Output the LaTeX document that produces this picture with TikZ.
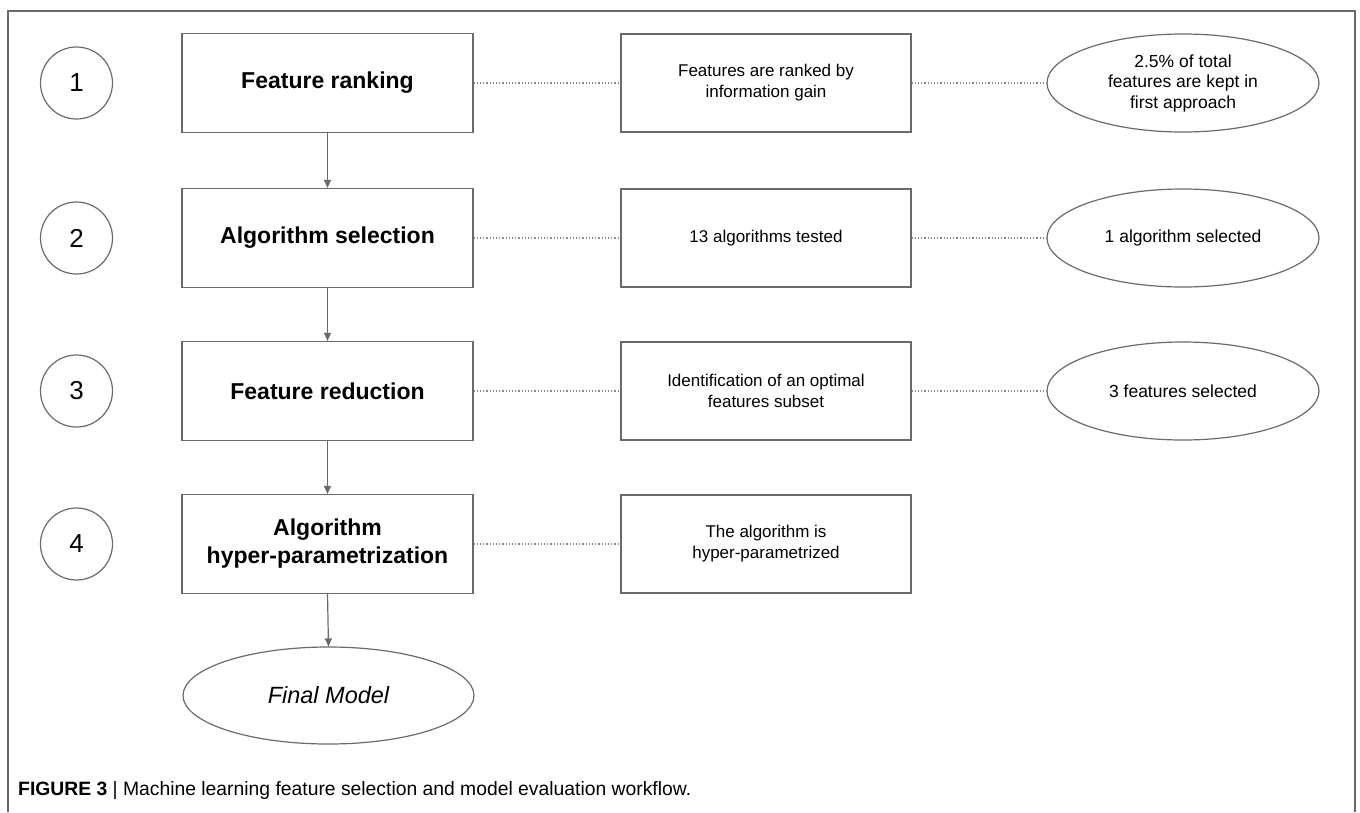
\documentclass[tikz,border=0pt]{standalone}
\usepackage{fontspec}
\setmainfont{Liberation Sans}
\usetikzlibrary{shapes.geometric,arrows.meta}
\definecolor{linegray}{HTML}{6A6A6A}
\definecolor{dotgray}{HTML}{8A8A8A}
\begin{document}
\begin{tikzpicture}[x=1pt,y=-1pt,
  frame/.style={draw=linegray, line width=1.5pt},
  numcirc/.style={circle, draw=linegray, line width=1.2pt, minimum size=72pt, inner sep=0pt, font=\fontsize{26}{30}\selectfont},
  mainbox/.style={rectangle, draw=linegray, line width=1.2pt, minimum width=291pt, minimum height=99pt, inner sep=0pt, align=center, font=\bfseries\fontsize{23}{28}\selectfont},
  descbox/.style={rectangle, draw=linegray, line width=1.2pt, minimum width=290pt, minimum height=98pt, inner sep=0pt, align=center, font=\fontsize{17}{21}\selectfont},
  resell/.style={ellipse, draw=linegray, line width=1.2pt, minimum width=272pt, minimum height=98pt, inner sep=0pt, align=center, font=\fontsize{17.5}{20.5}\selectfont},
  flow/.style={draw=linegray, line width=1.2pt, -{Triangle[length=8pt,width=7pt]}},
  dots/.style={draw=dotgray, line width=1.2pt, dotted}
]
\useasboundingbox (0,0) rectangle (1360,812);
\draw[frame] (8,812) -- (8,11) -- (1355,11) -- (1355,812);

% row 1
\node[numcirc] (c1) at (76.5,83) {1};
\node[mainbox] (m1) at (327.5,83) {Feature ranking};
\node[descbox] (d1) at (766,83) {Features are ranked by\\information gain};
\node[resell] (r1) at (1183,83) {2.5\% of total\\features are kept in\\first approach};
% row 2
\node[numcirc] (c2) at (76.5,238) {2};
\node[mainbox] (m2) at (327.5,238) {Algorithm selection};
\node[descbox] (d2) at (766,238) {13 algorithms tested};
\node[resell] (r2) at (1183,238) {1 algorithm selected};
% row 3
\node[numcirc] (c3) at (76.5,391) {3};
\node[mainbox] (m3) at (327.5,391) {Feature reduction};
\node[descbox] (d3) at (766,391) {Identification of an optimal\\features subset};
\node[resell] (r3) at (1183,391) {3 features selected};
% row 4
\node[numcirc] (c4) at (76.5,544) {4};
\node[mainbox] (m4) at (327.5,544) {Algorithm\\hyper-parametrization};
\node[descbox] (d4) at (766,544) {The algorithm is\\hyper-parametrized};
% final
\node[ellipse, draw=linegray, line width=1.2pt, minimum width=291pt, minimum height=97pt, inner sep=0pt, font=\itshape\fontsize{23.5}{28}\selectfont] (fm) at (328.5,695.5) {Final Model};

% flow arrows
\draw[flow] (m1) -- (m2);
\draw[flow] (m2) -- (m3);
\draw[flow] (m3) -- (m4);
\draw[flow] (m4.south) -- (fm.north);

% dotted links
\draw[dots] (m1) -- (d1);
\draw[dots] (d1) -- (r1);
\draw[dots] (m2) -- (d2);
\draw[dots] (d2) -- (r2);
\draw[dots] (m3) -- (d3);
\draw[dots] (d3) -- (r3);
\draw[dots] (m4) -- (d4);

% caption
\node[anchor=base west, inner sep=0pt] (cap) at (18,795) {\resizebox{673pt}{!}{\fontsize{16}{19}\selectfont\textbf{FIGURE 3} \textbar\ Machine learning feature selection and model evaluation workflow.}};
\end{tikzpicture}
\end{document}
